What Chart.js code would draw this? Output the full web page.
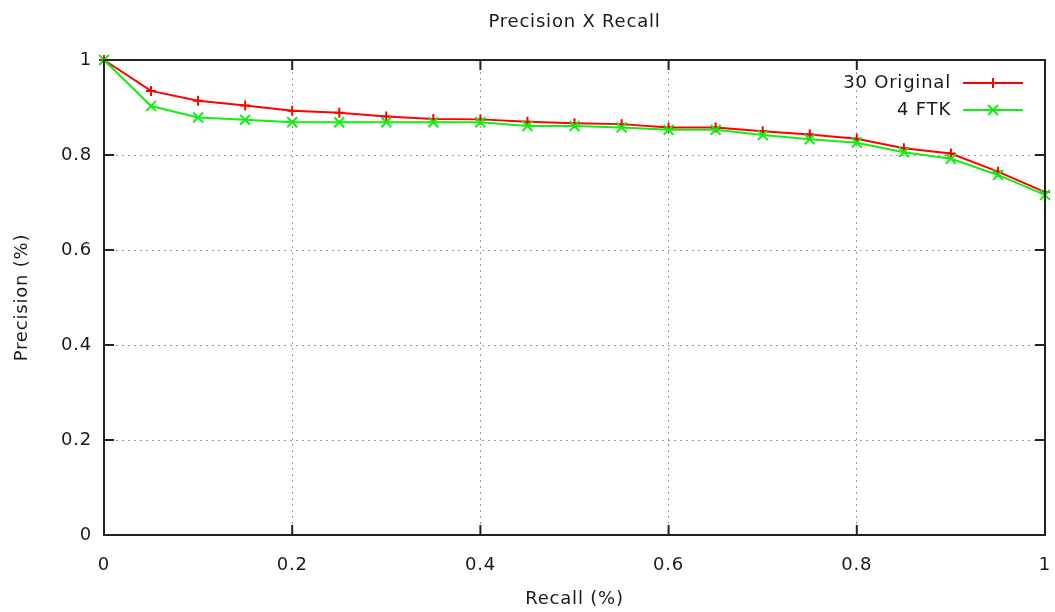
<!DOCTYPE html>
<html>
<head>
<meta charset="utf-8">
<script src="https://cdn.jsdelivr.net/npm/chart.js@4.4.1/dist/chart.umd.min.js"></script>
<style>
  html, body { margin: 0; padding: 0; background: #ffffff; }
  #wrap { width: 1055px; height: 612px; }
</style>
</head>
<body>
<div id="wrap"><canvas id="c" width="1055" height="612"></canvas></div>
<script>
const chartTitle = 'Precision X Recall';
const xAxisTitle = 'Recall (%)';
const yAxisTitle = 'Precision (%)';
const seriesNames = ['30 Original', '4 FTK'];
const recall = [0, 0.05, 0.1, 0.15, 0.2, 0.25, 0.3, 0.35, 0.4, 0.45, 0.5, 0.55, 0.6, 0.65, 0.7, 0.75, 0.8, 0.85, 0.9, 0.95, 1];
const precisionOriginal = [1, 0.935, 0.914, 0.904, 0.893, 0.889, 0.881, 0.876, 0.875, 0.870, 0.867, 0.865, 0.858, 0.858, 0.850, 0.843, 0.834, 0.814, 0.803, 0.765, 0.722];
const precisionFTK = [1, 0.903, 0.879, 0.874, 0.869, 0.869, 0.869, 0.869, 0.869, 0.861, 0.861, 0.858, 0.853, 0.853, 0.842, 0.833, 0.826, 0.806, 0.792, 0.758, 0.716];
const xTicks = [0, 0.2, 0.4, 0.6, 0.8, 1];
const yTicks = [0, 0.2, 0.4, 0.6, 0.8, 1];

const FONT = 'DejaVu Sans';
const FS = 18;
const LS = '0.8px';
const TEXT = '#1a1a1a';
const colors = ['#ff0000', '#11ee11'];
const styles = ['cross', 'crossRot'];
const radii = [5, 7];

function toPoints(ys) { return recall.map((x, i) => ({ x: x, y: ys[i] })); }

const spacing = {
  id: 'spacing',
  beforeInit(chart) { chart.ctx.letterSpacing = LS; },
  beforeUpdate(chart) { chart.ctx.letterSpacing = LS; },
  beforeDraw(chart) { chart.ctx.letterSpacing = LS; }
};

const frameTicks = {
  id: 'frameTicks',
  afterDatasetsDraw(chart) {
    const { ctx, chartArea: a, scales } = chart;
    ctx.save();
    ctx.strokeStyle = '#222';
    ctx.lineWidth = 2;
    ctx.setLineDash([]);
    ctx.strokeRect(a.left, a.top, a.right - a.left, a.bottom - a.top);
    const L = 10;
    ctx.beginPath();
    xTicks.forEach(v => {
      const px = scales.x.getPixelForValue(v);
      ctx.moveTo(px, a.bottom); ctx.lineTo(px, a.bottom - L);
      ctx.moveTo(px, a.top); ctx.lineTo(px, a.top + L);
    });
    yTicks.forEach(v => {
      const py = scales.y.getPixelForValue(v);
      ctx.moveTo(a.left, py); ctx.lineTo(a.left + L, py);
      ctx.moveTo(a.right, py); ctx.lineTo(a.right - L, py);
    });
    ctx.stroke();
    ctx.restore();
  },
  afterDraw(chart) {
    const { ctx, chartArea: a } = chart;
    ctx.save();
    ctx.font = FS + 'px "' + FONT + '"';
    ctx.letterSpacing = LS;
    ctx.fillStyle = TEXT;
    ctx.textAlign = 'center';
    ctx.textBaseline = 'middle';
    ctx.fillText(chartTitle, (a.left + a.right) / 2, 22);
    ctx.textAlign = 'right';
    const rowsY = [83, 110];
    seriesNames.forEach((name, i) => {
      const y = rowsY[i];
      ctx.fillStyle = TEXT;
      ctx.fillText(name, 951, y);
      ctx.strokeStyle = colors[i];
      ctx.lineWidth = 2;
      ctx.beginPath();
      ctx.moveTo(963, y); ctx.lineTo(1023, y);
      const cx = 993, r = radii[i];
      if (styles[i] === 'cross') {
        ctx.moveTo(cx - r, y); ctx.lineTo(cx + r, y);
        ctx.moveTo(cx, y - r); ctx.lineTo(cx, y + r);
      } else {
        const d = r * Math.SQRT1_2;
        ctx.moveTo(cx - d, y - d); ctx.lineTo(cx + d, y + d);
        ctx.moveTo(cx - d, y + d); ctx.lineTo(cx + d, y - d);
      }
      ctx.stroke();
    });
    ctx.restore();
  }
};

const gridColor = ctx => (ctx.tick && (ctx.tick.value === 0 || ctx.tick.value === 1)) ? 'rgba(0,0,0,0)' : '#9a9a9a';

new Chart(document.getElementById('c'), {
  type: 'line',
  data: {
    datasets: [
      { label: seriesNames[0], data: toPoints(precisionOriginal), borderColor: colors[0], backgroundColor: colors[0],
        borderWidth: 2, pointStyle: styles[0], pointRadius: radii[0], pointBorderWidth: 2, pointBorderColor: colors[0],
        tension: 0, fill: false, order: 1, clip: false },
      { label: seriesNames[1], data: toPoints(precisionFTK), borderColor: colors[1], backgroundColor: colors[1],
        borderWidth: 2, pointStyle: styles[1], pointRadius: radii[1], pointBorderWidth: 2, pointBorderColor: colors[1],
        tension: 0, fill: false, order: 0, clip: false }
    ]
  },
  options: {
    responsive: false,
    animation: false,
    layout: { padding: { left: 0, right: 0, top: 60, bottom: 0 } },
    plugins: {
      legend: { display: false },
      tooltip: { enabled: false },
      title: { display: false }
    },
    scales: {
      x: {
        type: 'linear', min: 0, max: 1,
        afterBuildTicks: s => { s.ticks = xTicks.map(v => ({ value: v })); },
        afterFit: s => { s.height = 77; s.paddingRight = 10; s.paddingLeft = 0; },
        ticks: { color: TEXT, font: { family: FONT, size: FS }, padding: 20, maxRotation: 0,
                 callback: v => String(v) },
        grid: { color: gridColor, lineWidth: 1, drawTicks: false, tickLength: 0 },
        border: { display: false, dash: [2, 4] },
        title: { display: true, text: xAxisTitle, color: TEXT, font: { family: FONT, size: FS }, padding: { top: 0, bottom: 2 } }
      },
      y: {
        type: 'linear', min: 0, max: 1,
        afterBuildTicks: s => { s.ticks = yTicks.map(v => ({ value: v })); },
        afterFit: s => { s.width = 104; s.paddingTop = 0; s.paddingBottom = 0; },
        ticks: { color: TEXT, font: { family: FONT, size: FS }, padding: 12, callback: v => String(v) },
        grid: { color: gridColor, lineWidth: 1, drawTicks: false, tickLength: 0 },
        border: { display: false, dash: [2, 4] },
        title: { display: true, text: yAxisTitle, color: TEXT, font: { family: FONT, size: FS }, padding: { top: 12, bottom: 0 } }
      }
    }
  },
  plugins: [spacing, frameTicks]
});
</script>
</body>
</html>
